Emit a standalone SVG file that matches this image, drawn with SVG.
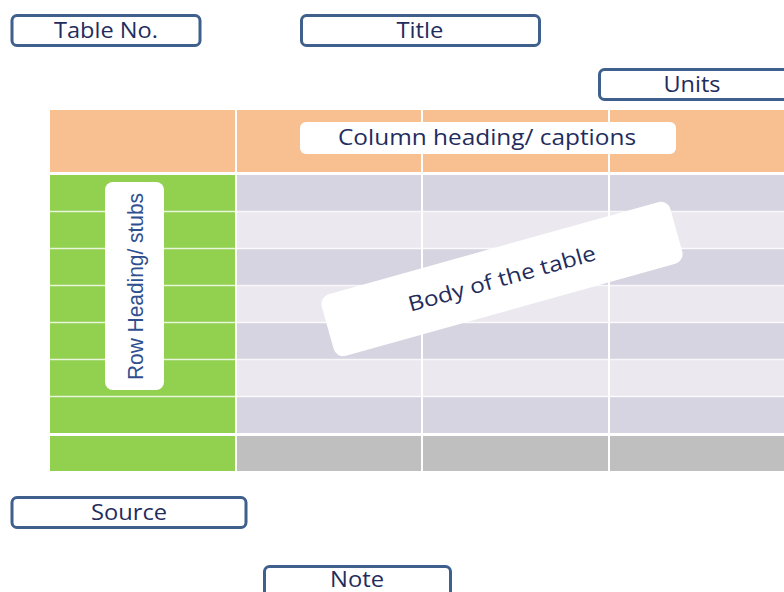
<svg xmlns="http://www.w3.org/2000/svg" width="784" height="592" viewBox="0 0 784 592">
<style>
.box{fill:#fff;stroke:#3F5F8C;stroke-width:3}
.lbl{font-family:"Open Sans","Noto Sans",sans-serif;font-size:21px;fill:#1F2D5E;text-anchor:middle}
.pill{fill:#fff}
.sep{stroke:#fff;stroke-width:2}
.hsep{stroke:#fff;stroke-width:1.5;stroke-opacity:0.8}
.dark{fill:#D7D4E1}
.light{fill:#EBE9EF}
.green{fill:#92D050}
</style>
<rect width="784" height="592" fill="#fff"/>
<g id="table">
  <rect x="50" y="110" width="734" height="62" fill="#F8C090"/>
  <rect x="50" y="175" width="186" height="258" class="green"/>
  <rect x="50" y="436" width="186" height="35" class="green"/>
  <rect x="236" y="175" width="548" height="37" class="dark"/>
  <rect x="236" y="212" width="548" height="37" class="light"/>
  <rect x="236" y="249" width="548" height="37" class="dark"/>
  <rect x="236" y="286" width="548" height="37" class="light"/>
  <rect x="236" y="323" width="548" height="37" class="dark"/>
  <rect x="236" y="360" width="548" height="37" class="light"/>
  <rect x="236" y="397" width="548" height="36" class="dark"/>
  <rect x="236" y="436" width="548" height="35" fill="#BFBFBF"/>
  <g class="hsep">
    <line x1="50" y1="211.5" x2="784" y2="211.5"/>
    <line x1="50" y1="248.5" x2="784" y2="248.5"/>
    <line x1="50" y1="285.5" x2="784" y2="285.5"/>
    <line x1="50" y1="322.5" x2="784" y2="322.5"/>
    <line x1="50" y1="359.5" x2="784" y2="359.5"/>
    <line x1="50" y1="396.5" x2="784" y2="396.5"/>
  </g>
  <g class="sep">
    <line x1="236" y1="110" x2="236" y2="471"/>
    <line x1="422" y1="110" x2="422" y2="471"/>
    <line x1="609" y1="110" x2="609" y2="471"/>
  </g>
</g>
<g id="table-no">
  <rect class="box" x="12" y="15.5" width="188" height="30" rx="5"/>
  <text class="lbl" x="106" y="38" textLength="104" lengthAdjust="spacingAndGlyphs">Table No.</text>
</g>
<g id="title">
  <rect class="box" x="301.5" y="15.5" width="238" height="30" rx="5"/>
  <text class="lbl" x="420" y="38" textLength="47" lengthAdjust="spacingAndGlyphs">Title</text>
</g>
<g id="units">
  <rect class="box" x="599.5" y="69.5" width="190" height="30" rx="5"/>
  <text class="lbl" x="692" y="92" textLength="57" lengthAdjust="spacingAndGlyphs">Units</text>
</g>
<g id="column-heading">
  <rect class="pill" x="300" y="122" width="376" height="32" rx="6"/>
  <text class="lbl" x="487" y="145" textLength="298" lengthAdjust="spacingAndGlyphs">Column heading/ captions</text>
</g>
<g id="row-heading">
  <rect class="pill" x="105" y="182" width="59" height="208" rx="8"/>
  <text x="0" y="0" transform="translate(143,286.5) rotate(-90)" font-family="'Liberation Sans',Arial,sans-serif" font-size="22" fill="#2F4F8F" text-anchor="middle" textLength="187" lengthAdjust="spacingAndGlyphs">Row Heading/ stubs</text>
</g>
<g id="body-label">
  <g transform="translate(502,279) rotate(-15.6)">
    <rect class="pill" x="-181" y="-32" width="362" height="64" rx="10"/>
    <text class="lbl" x="0" y="7" textLength="194" lengthAdjust="spacingAndGlyphs">Body of the table</text>
  </g>
</g>
<g id="source">
  <rect class="box" x="12" y="497.5" width="234" height="30" rx="5"/>
  <text class="lbl" x="129" y="520" textLength="76" lengthAdjust="spacingAndGlyphs">Source</text>
</g>
<g id="note">
  <rect class="box" x="264.5" y="566.5" width="186" height="34" rx="5"/>
  <text class="lbl" x="357" y="587" font-size="20" textLength="54" lengthAdjust="spacingAndGlyphs">Note</text>
</g>
<g id="connectors"/>
</svg>
